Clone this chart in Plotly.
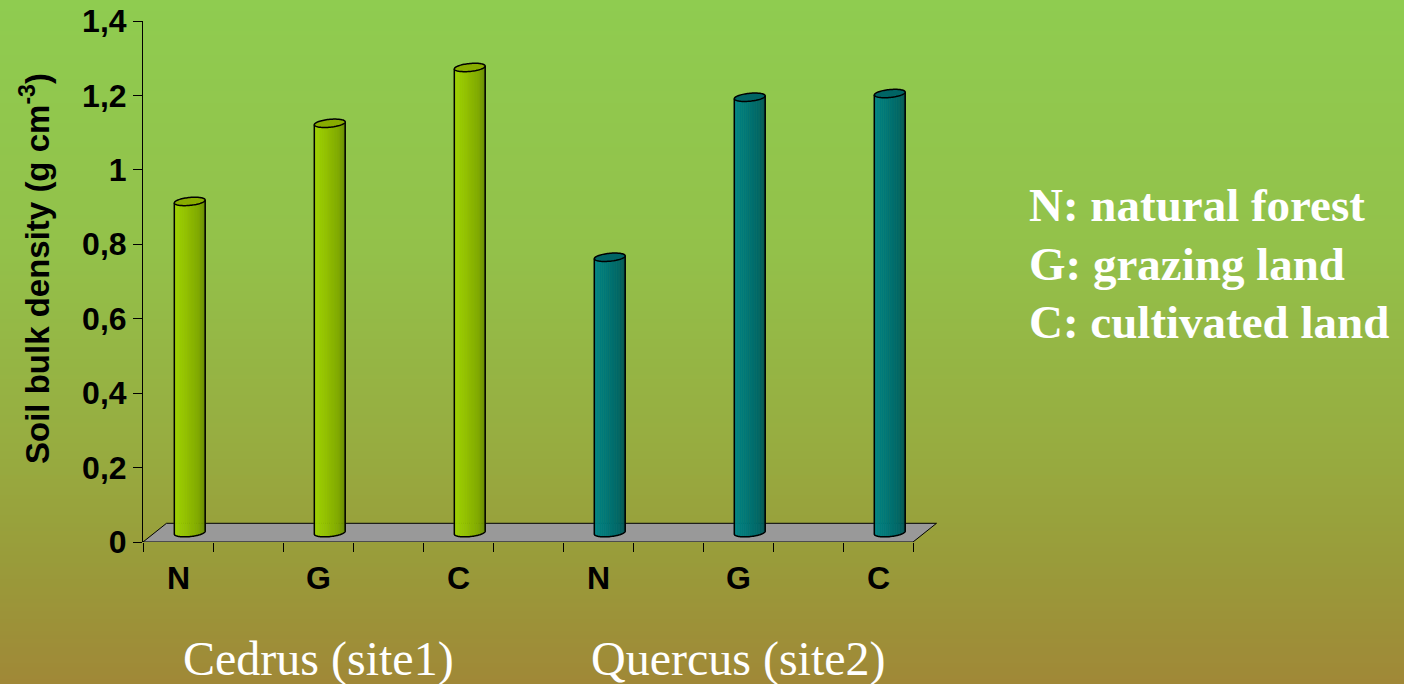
import numpy as np
import plotly.graph_objects as go

# ---- data -------------------------------------------------------------
categories = ["N", "G", "C", "N", "G", "C"]
cedrus = [0.89, 1.10, 1.25]          # site 1, soil bulk density (g cm-3)
quercus = [0.74, 1.17, 1.18]         # site 2
site_labels = ["Cedrus (site1)", "Quercus (site2)"]
y_tick_vals = [0, 0.2, 0.4, 0.6, 0.8, 1.0, 1.2, 1.4]
y_tick_text = ["0", "0,2", "0,4", "0,6", "0,8", "1", "1,2", "1,4"]
legend_lines = ["N: natural forest", "G: grazing land", "C: cultivated land"]

# ---- layout geometry --------------------------------------------------
W, H = 1404, 684
L, T, B = 143, 21, 142
PW = 800
PH = H - T - B
X_MIN = -0.25
X_MAX = X_MIN + PW / 140.0
Y_MAX = 1.4
PX_X = PW / (X_MAX - X_MIN)
PX_Y = PH / Y_MAX

# oblique depth of the floor and cylinder cross-section (axis units)
DEPTH_X = 23.5 / PX_X
DEPTH_Y = 18.7 / PX_Y
R = 14.5 / PX_X
AX = 0.45 * DEPTH_X / 2
BY = 0.45 * DEPTH_Y / 2

values = cedrus + quercus
series_of_bar = [0, 0, 0, 1, 1, 1]

body_stops = {
    0: [(-1.0, (165, 214, 10)), (-0.3, (152, 200, 0)), (0.4, (128, 168, 0)), (1.0, (94, 126, 0))],
    1: [(-1.0, (10, 140, 140)), (-0.3, (0, 124, 124)), (0.4, (0, 102, 102)), (1.0, (0, 76, 76))],
}
cap_color = {0: "rgb(136,172,0)", 1: "rgb(0,100,100)"}


def interp_color(stops, u):
    for (u0, c0), (u1, c1) in zip(stops[:-1], stops[1:]):
        if u <= u1:
            f = (u - u0) / (u1 - u0) if u1 > u0 else 0
            f = min(max(f, 0), 1)
            return "rgb(%d,%d,%d)" % tuple(round(a + (b - a) * f) for a, b in zip(c0, c1))
    return "rgb(%d,%d,%d)" % stops[-1][1]


def ellipse_pt(cx, cy, t):
    return cx + R * np.cos(t) + AX * np.sin(t), cy + BY * np.sin(t)


def path_from(points, close=False):
    s = "M " + " L ".join("%.5f,%.5f" % (x, y) for x, y in points)
    return s + (" Z" if close else "")


shapes = []

# ---- background gradient (figure-wide bands) --------------------------
bg_stops = [(0, (143, 204, 80)), (250, (147, 193, 74)), (450, (151, 172, 64)),
            (560, (153, 156, 58)), (684, (160, 136, 55))]


def bg_color(py):
    for (p0, c0), (p1, c1) in zip(bg_stops[:-1], bg_stops[1:]):
        if py <= p1:
            f = (py - p0) / (p1 - p0)
            return "rgb(%d,%d,%d)" % tuple(round(a + (b - a) * f) for a, b in zip(c0, c1))
    return "rgb(%d,%d,%d)" % bg_stops[-1][1]


band = 4
for py in range(0, H, band):
    y_top = (H - py + 1 - B) / PH
    y_bot = (H - (py + band + 1) - B) / PH
    shapes.append(dict(type="rect", xref="paper", yref="paper",
                       x0=-L / PW, x1=(W - L) / PW, y0=y_bot, y1=y_top,
                       fillcolor=bg_color(py + band / 2), line=dict(width=0), layer="below"))

# ---- floor -----------------------------------------------------------
x_front_right = X_MIN + 5.5
floor = [(X_MIN, 0), (x_front_right, 0), (x_front_right + DEPTH_X, DEPTH_Y), (X_MIN + DEPTH_X, DEPTH_Y)]
shapes.append(dict(type="path", xref="x", yref="y", path=path_from(floor, close=True),
                   fillcolor="rgb(153,153,153)", line=dict(color="black", width=1), layer="below"))

# ---- cylinders -------------------------------------------------------
t0 = np.arctan2(AX, R)
n_strips = 22
for k, (v, s) in enumerate(zip(values, series_of_bar)):
    cx = k + DEPTH_X / 2
    cy0 = DEPTH_Y / 2
    cy1 = cy0 + v
    ts = np.linspace(t0 + np.pi, t0 + 2 * np.pi, n_strips + 1)
    for i in range(n_strips):
        seg = np.linspace(ts[i], ts[i + 1], 4)
        bottom = [ellipse_pt(cx, cy0, t) for t in seg]
        top = [ellipse_pt(cx, cy1, t) for t in seg[::-1]]
        u = -1 + 2 * (i + 0.5) / n_strips
        shapes.append(dict(type="path", xref="x", yref="y", path=path_from(bottom + top, close=True),
                           fillcolor=interp_color(body_stops[s], u),
                           line=dict(width=0.6, color=interp_color(body_stops[s], u)), layer="below"))
    arc = np.linspace(t0 + np.pi, t0 + 2 * np.pi, 60)
    outline = [ellipse_pt(cx, cy1, arc[0])] + [ellipse_pt(cx, cy0, t) for t in arc] + [ellipse_pt(cx, cy1, arc[-1])]
    shapes.append(dict(type="path", xref="x", yref="y", path=path_from(outline),
                       fillcolor="rgba(0,0,0,0)", line=dict(color="black", width=1.5), layer="below"))
    full = np.linspace(0, 2 * np.pi, 80)
    shapes.append(dict(type="path", xref="x", yref="y",
                       path=path_from([ellipse_pt(cx, cy1, t) for t in full], close=True),
                       fillcolor=cap_color[s], line=dict(color="black", width=1.5), layer="below"))

fig = go.Figure()
fig.add_trace(go.Scatter(x=[X_MIN, X_MAX], y=[0, Y_MAX], mode="markers",
                         marker=dict(opacity=0), hoverinfo="skip", showlegend=False))

annotations = []
axis_font = dict(family="Liberation Sans, Arial, sans-serif", size=32, color="black", weight="bold")

# category labels under the floor
for k, c in enumerate(categories):
    annotations.append(dict(x=k, y=(H - 578 - B) / PH, xref="x", yref="paper", text=c,
                            showarrow=False, font=axis_font, xanchor="center", yanchor="middle"))

# y-axis title
annotations.append(dict(x=(35 - L) / PW, y=(H - 269 - B) / PH, xref="paper", yref="paper",
                        text="Soil bulk density (g cm<sup>-3</sup>)", textangle=-90, showarrow=False,
                        font=dict(family="Liberation Sans, Arial, sans-serif", size=33, color="black", weight="bold"),
                        xanchor="center", yanchor="middle"))

# site labels
for k, lab in zip([1, 4], site_labels):
    annotations.append(dict(x=k, y=(H - 659 - B) / PH, xref="x", yref="paper", text=lab,
                            showarrow=False, xanchor="center", yanchor="middle",
                            font=dict(family="Liberation Serif, Times New Roman, serif", size=48, color="white")))

# key to the category codes
for line, py in zip(legend_lines, [205, 264, 322]):
    annotations.append(dict(x=(1027 - L) / PW, y=(H - py - B) / PH, xref="paper", yref="paper", text=line,
                            showarrow=False, xanchor="left", yanchor="middle",
                            font=dict(family="Liberation Serif, Times New Roman, serif", size=47,
                                      color="white", weight="bold")))

fig.update_layout(
    width=W, height=H, autosize=False,
    margin=dict(l=L, r=W - L - PW, t=T, b=B, pad=0, autoexpand=False),
    paper_bgcolor="rgb(150,175,66)", plot_bgcolor="rgba(0,0,0,0)",
    shapes=shapes, annotations=annotations, showlegend=False,
    xaxis=dict(range=[X_MIN, X_MAX], tickvals=[X_MIN + 0.5 * i for i in range(12)],
               ticks="outside", ticklen=9, tickcolor="black", tickwidth=1, automargin=False,
               showticklabels=False, showline=False, showgrid=False, zeroline=False, fixedrange=True),
    yaxis=dict(range=[0, Y_MAX], tickvals=y_tick_vals, ticktext=y_tick_text,
               ticks="outside", ticklen=9, tickcolor="black", tickwidth=1, automargin=False,
               showline=True, linecolor="black", linewidth=1, showgrid=False, zeroline=False,
               tickfont=axis_font, fixedrange=True),
)

fig.write_html("out.html")
